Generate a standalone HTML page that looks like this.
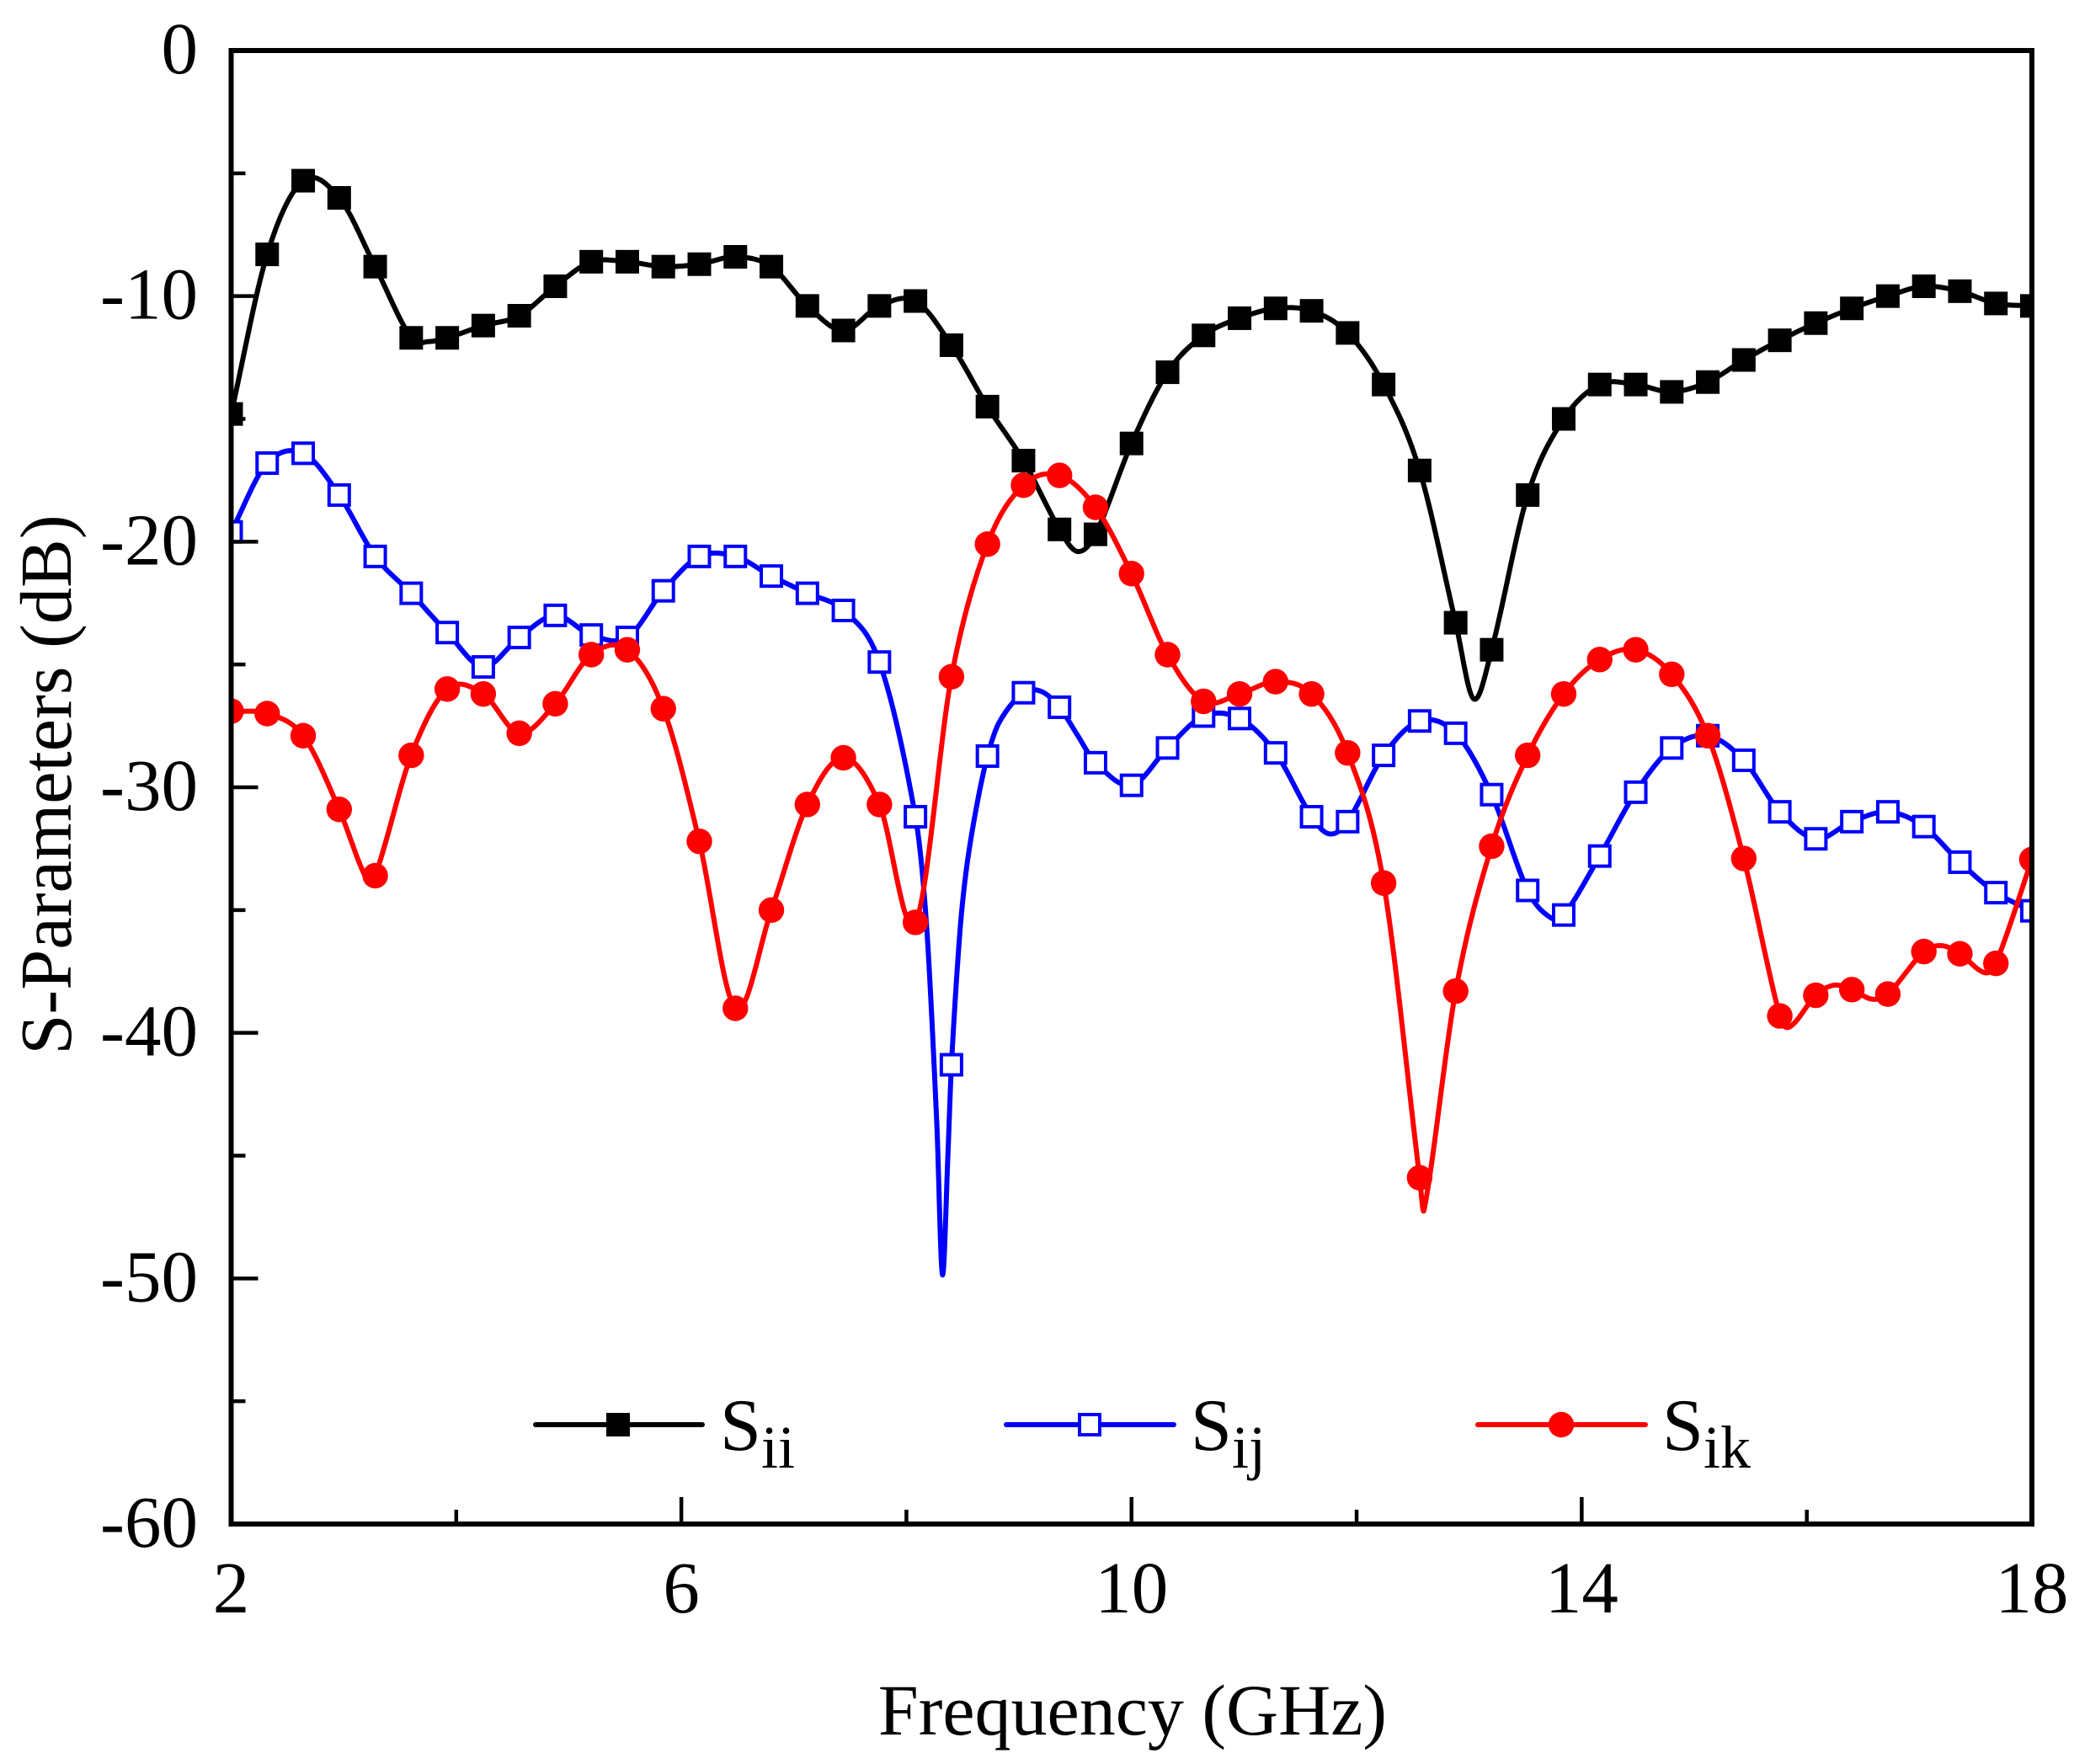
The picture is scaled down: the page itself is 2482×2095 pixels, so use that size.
<!DOCTYPE html>
<html>
<head>
<meta charset="utf-8">
<title>S-Parameters vs Frequency</title>
<style>
html,body{margin:0;padding:0;background:#fff;}
svg{display:block;}
text{font-family:"Liberation Serif","Times New Roman",serif;fill:#000;}
</style>
</head>
<body>
<svg id="chart" xmlns="http://www.w3.org/2000/svg" width="2482" height="2095" viewBox="0 0 2482 2095">
  <defs>
    <clipPath id="plot-clip"><rect x="274.5" y="60" width="2138.5" height="1750"></rect></clipPath>
  </defs>
  <rect x="0" y="0" width="2482" height="2095" fill="#fff"></rect>
  <g id="series-layer" clip-path="url(#plot-clip)"></g>
  <g id="axis-layer"></g>
  <rect x="274.5" y="60" width="2138.5" height="1750" fill="none" stroke="#000" stroke-width="6"></rect>
  <text x="1345" y="2060" font-size="86" text-anchor="middle">Frequency (GHz)</text>
  <text transform="translate(84 932) rotate(-90)" font-size="86.5" text-anchor="middle">S-Parameters (dB)</text>

  <g>
    <g>
      <line x1="636" y1="1692" x2="834" y2="1692" stroke="#000" stroke-width="6" stroke-linecap="round"></line>
      <rect x="720" y="1678" width="28" height="28" fill="#000"></rect>
      <text x="855" y="1722" font-size="88">S<tspan font-size="72" dy="21">ii</tspan></text>
    </g>
    <g>
      <line x1="1195" y1="1692" x2="1394" y2="1692" stroke="#00f" stroke-width="6" stroke-linecap="round"></line>
      <rect x="1282" y="1680" width="24" height="24" fill="#fff" stroke="#00f" stroke-width="4"></rect>
      <text x="1414" y="1722" font-size="88">S<tspan font-size="72" dy="21">ij</tspan></text>
    </g>
    <g>
      <line x1="1755" y1="1692" x2="1954" y2="1692" stroke="#f00" stroke-width="6" stroke-linecap="round"></line>
      <circle cx="1854" cy="1692" r="15.2" fill="#f00"></circle>
      <text x="1974" y="1722" font-size="88">S<tspan font-size="72" dy="21">ik</tspan></text>
    </g>
  </g>
</svg>
<script>
const markerFreq = [2.00,2.32,2.64,2.96,3.28,3.60,3.92,4.24,4.56,4.88,5.20,5.52,5.84,6.16,6.48,6.80,7.12,7.44,7.76,8.08,8.40,8.72,9.04,9.36,9.68,10.00,10.32,10.64,10.96,11.28,11.60,11.92,12.24,12.56,12.88,13.20,13.52,13.84,14.16,14.48,14.80,15.12,15.44,15.76,16.08,16.40,16.72,17.04,17.36,17.68,18.00];

const siiValues = [-14.8,-8.3,-5.3,-6.0,-8.8,-11.7,-11.7,-11.2,-10.8,-9.6,-8.6,-8.6,-8.8,-8.7,-8.4,-8.8,-10.4,-11.4,-10.4,-10.2,-12.0,-14.5,-16.7,-19.5,-19.7,-16.0,-13.1,-11.6,-10.9,-10.5,-10.6,-11.5,-13.6,-17.1,-23.3,-24.4,-18.1,-15.0,-13.6,-13.6,-13.9,-13.5,-12.6,-11.8,-11.1,-10.5,-10.0,-9.6,-9.8,-10.3,-10.4];
const sijValues = [-19.6,-16.8,-16.4,-18.1,-20.6,-22.1,-23.7,-25.1,-23.9,-23.0,-23.8,-23.9,-22.0,-20.6,-20.6,-21.4,-22.1,-22.8,-24.9,-31.2,-41.3,-28.73,-26.15,-26.74,-29.0,-29.92,-28.4,-27.1,-27.2,-28.6,-31.2,-31.4,-28.7,-27.3,-27.8,-30.3,-34.2,-35.2,-32.8,-30.2,-28.4,-27.9,-28.9,-31.0,-32.1,-31.4,-31.0,-31.6,-33.05,-34.29,-35.03];
const sikValues = [-26.9,-27.0,-27.9,-30.9,-33.6,-28.7,-26.0,-26.2,-27.8,-26.6,-24.6,-24.4,-26.8,-32.2,-39.0,-35.0,-30.7,-28.8,-30.7,-35.5,-25.5,-20.1,-17.7,-17.3,-18.6,-21.3,-24.6,-26.5,-26.2,-25.7,-26.2,-28.6,-33.9,-45.9,-38.3,-32.4,-28.7,-26.2,-24.8,-24.4,-25.4,-27.9,-32.9,-39.31,-38.47,-38.24,-38.42,-36.69,-36.78,-37.17,-32.94];

// Curve-only samples between the plotted markers (dips that fall off the marker grid)
const siiExtraFreq = [3.76,9.52,13.04];
const siiExtraValues = [-11.85,-20.4,-26.4];
const sijExtraFreq = [8.18,8.27,8.32,8.37,8.475,8.535,8.625,8.825,9.2,9.52,11.76,13.72];
const sijExtraValues = [-35.7,-43.7,-49.85,-44.8,-35.9,-33.26,-30.74,-27.35,-26.1,-27.88,-31.9,-35.3];
const sikExtraFreq = [3.20,12.60,15.85,16.24,16.58,17.20,17.58];
const sikExtraValues = [-33.7,-47.2,-39.75,-38.06,-38.63,-36.45,-37.55];

const xTickValues = [2,6,10,14,18];
const xMinorTickValues = [4,8,12,16];
const yTickValues = [0,-10,-20,-30,-40,-50,-60];
const yMinorTickValues = [-5,-15,-25,-35,-45,-55];

const NS = 'http://www.w3.org/2000/svg';
const plot = {left:274.5, right:2413, top:60, bottom:1810, xMin:2, xMax:18, yMin:-60, yMax:0};
function xScale(f){ return plot.left + (f - plot.xMin) / (plot.xMax - plot.xMin) * (plot.right - plot.left); }
function yScale(v){ return plot.top + (plot.yMax - v) / (plot.yMax - plot.yMin) * (plot.bottom - plot.top); }

function curvePath(freqs, values, exFreqs, exValues){
  const pts = [];
  freqs.forEach(function(f,i){ pts.push([xScale(f), yScale(values[i])]); });
  exFreqs.forEach(function(f,i){ pts.push([xScale(f), yScale(exValues[i])]); });
  pts.sort(function(a,b){ return a[0]-b[0]; });
  const slopes = pts.map(function(p,i){
    const a = pts[Math.max(0,i-1)], b = pts[Math.min(pts.length-1,i+1)];
    return (b[1]-a[1])/(b[0]-a[0]);
  });
  let d = 'M' + pts[0][0].toFixed(2) + ' ' + pts[0][1].toFixed(2);
  for(let i=0;i<pts.length-1;i++){
    const p = pts[i], q = pts[i+1], h = (q[0]-p[0])/3;
    d += 'C' + (p[0]+h).toFixed(2) + ' ' + (p[1]+slopes[i]*h).toFixed(2) + ' ' +
         (q[0]-h).toFixed(2) + ' ' + (q[1]-slopes[i+1]*h).toFixed(2) + ' ' +
         q[0].toFixed(2) + ' ' + q[1].toFixed(2);
  }
  return d;
}

const seriesLayer = document.getElementById('series-layer');
const axisLayer = document.getElementById('axis-layer');

function drawSeries(key, color, values, exFreqs, exValues, kind){
  const group = document.createElementNS(NS,'g');
  
  
  const line = document.createElementNS(NS,'path');
  
  
  line.setAttribute('d', curvePath(markerFreq, values, exFreqs, exValues));
  line.setAttribute('fill', 'none');
  line.setAttribute('stroke', color);
  line.setAttribute('stroke-width', '6');
  line.setAttribute('stroke-linejoin', 'round');
  group.appendChild(line);
  markerFreq.forEach(function(f,i){
    const cx = xScale(f), cy = yScale(values[i]);
    let m;
    if(kind === 'circle'){
      m = document.createElementNS(NS,'circle');
      m.setAttribute('cx', cx);
      m.setAttribute('cy', cy);
      m.setAttribute('r', 15.2);
      m.setAttribute('fill', color);
    } else {
      m = document.createElementNS(NS,'rect');
      const hollow = kind === 'hollow';
      const half = hollow ? 12 : 14;
      m.setAttribute('x', cx-half);
      m.setAttribute('y', cy-half);
      m.setAttribute('width', half*2);
      m.setAttribute('height', half*2);
      m.setAttribute('fill', hollow ? '#fff' : color);
      if(hollow){
        m.setAttribute('stroke', color);
        m.setAttribute('stroke-width', '4');
      }
    }
    
    
    group.appendChild(m);
  });
  seriesLayer.appendChild(group);
}
drawSeries('sii', '#000', siiValues, siiExtraFreq, siiExtraValues, 'solid');
drawSeries('sij', '#00f', sijValues, sijExtraFreq, sijExtraValues, 'hollow');
drawSeries('sik', '#f00', sikValues, sikExtraFreq, sikExtraValues, 'circle');

function addTick(x1,y1,x2,y2,name){
  const t = document.createElementNS(NS,'line');
  t.setAttribute('x1', x1);
  t.setAttribute('y1', y1);
  t.setAttribute('x2', x2);
  t.setAttribute('y2', y2);
  t.setAttribute('stroke', '#000');
  t.setAttribute('stroke-width', '4.5');
  
  
  axisLayer.appendChild(t);
}
function addLabel(x,y,anchor,str,name){
  const t = document.createElementNS(NS,'text');
  t.setAttribute('x', x);
  t.setAttribute('y', y);
  t.setAttribute('text-anchor', anchor);
  t.setAttribute('font-size', '87');
  
  
  t.textContent = str;
  axisLayer.appendChild(t);
}
xTickValues.forEach(function(v){
  const x = xScale(v);
  addTick(x, plot.bottom, x, plot.bottom-32, 'x-major-tick');
  addLabel(x, 1915, 'middle', String(v), 'x-tick-label');
});
xMinorTickValues.forEach(function(v){
  const x = xScale(v);
  addTick(x, plot.bottom, x, plot.bottom-17, 'x-minor-tick');
});
yTickValues.forEach(function(v){
  const y = yScale(v);
  addTick(plot.left, y, plot.left+32, y, 'y-major-tick');
  addLabel(235, y+27, 'end', String(v), 'y-tick-label');
});
yMinorTickValues.forEach(function(v){
  const y = yScale(v);
  addTick(plot.left, y, plot.left+17, y, 'y-minor-tick');
});
</script>
</body>
</html>
